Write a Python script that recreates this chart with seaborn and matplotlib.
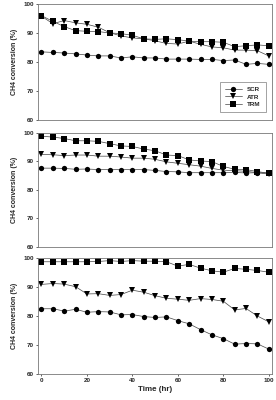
import pandas as pd
import matplotlib
matplotlib.use("Agg")
import matplotlib.pyplot as plt
import seaborn as sns

time = list(range(0, 101, 5))
series = ["SCR", "ATR", "TRM"]

# panel 1
scr1 = [83.5, 83.3, 83.1, 82.8, 82.4, 82.1, 82.1, 81.4, 81.8, 81.4, 81.4,
        81.0, 81.0, 81.0, 80.9, 80.9, 80.5, 80.7, 79.2, 79.5, 79.2]
atr1 = [95.8, 93.2, 94.3, 93.5, 93.0, 92.0, 90.1, 89.0, 88.3, 88.0, 87.3,
        86.4, 86.2, 87.2, 86.1, 85.2, 84.9, 84.1, 84.1, 83.9, 82.1]
trm1 = [96.0, 94.0, 92.2, 90.8, 90.6, 90.5, 90.0, 89.8, 89.2, 88.0, 87.8,
        88.0, 87.7, 87.2, 87.0, 87.0, 86.8, 85.3, 85.6, 85.9, 85.6]

# panel 2
scr2 = [87.6, 87.6, 87.5, 87.2, 87.3, 87.1, 87.1, 87.1, 87.1, 87.1, 86.8,
        86.4, 86.3, 86.0, 86.0, 86.0, 86.0, 86.1, 85.9, 86.0, 85.9]
atr2 = [92.4, 92.3, 92.0, 92.2, 92.2, 91.8, 91.8, 91.5, 91.1, 91.1, 90.7,
        89.8, 89.3, 88.8, 88.3, 87.5, 86.9, 86.7, 86.5, 86.0, 85.5]
trm2 = [98.8, 98.5, 98.0, 97.2, 97.2, 97.0, 96.2, 95.4, 95.2, 94.3, 93.7,
        92.2, 92.0, 90.5, 90.1, 89.9, 88.2, 87.2, 87.1, 86.4, 85.8]

# panel 3
scr3 = [82.5, 82.5, 81.7, 82.3, 81.3, 81.5, 81.4, 80.4, 80.5, 79.8, 79.5,
        79.7, 78.4, 77.3, 75.3, 73.5, 72.2, 70.3, 70.5, 70.4, 68.6]
atr3 = [90.9, 91.2, 91.0, 90.1, 87.6, 87.7, 87.1, 87.4, 88.9, 88.2, 87.0,
        86.1, 85.8, 85.4, 86.0, 85.7, 85.1, 82.1, 82.6, 80.0, 78.0]
trm3 = [98.7, 98.7, 98.7, 98.7, 98.7, 98.8, 99.1, 98.8, 99.1, 98.9, 98.9,
        98.7, 97.2, 97.8, 96.5, 95.6, 95.1, 96.4, 96.1, 95.7, 95.1]

panels = [(scr1, atr1, trm1), (scr2, atr2, trm2), (scr3, atr3, trm3)]
markers = {"SCR": "o", "ATR": "v", "TRM": "s"}
palette = {"SCR": "black", "ATR": "black", "TRM": "black"}

sns.set_style("white")
plt.rcParams["font.family"] = ["Liberation Sans", "DejaVu Sans"]

fig = plt.figure(figsize=(2.76, 4.0), dpi=100)
boxes = [[0.138, 0.70, 0.848, 0.29],
         [0.138, 0.383, 0.848, 0.285],
         [0.138, 0.065, 0.848, 0.29]]

for i, (box, vals) in enumerate(zip(boxes, panels)):
    ax = fig.add_axes(box)
    df = pd.DataFrame({
        "Time": time * 3,
        "CH4": vals[0] + vals[1] + vals[2],
        "Reactor": sum([[s] * len(time) for s in series], []),
    })
    sns.lineplot(data=df, x="Time", y="CH4", hue="Reactor", style="Reactor",
                 markers=markers, dashes=False, palette=palette, ax=ax,
                 markersize=3.8, linewidth=0.5, markeredgewidth=0,
                 legend=(i == 0))
    for ln in ax.lines:
        ln.set_color("#444444")
        ln.set_markerfacecolor("black")
        ln.set_markeredgecolor("black")
    ax.set_xlim(-1.5, 101.5)
    ax.set_ylim(60, 100)
    ax.set_yticks([60, 70, 80, 90, 100])
    ax.tick_params(axis="y", labelsize=4.5, length=1.5, width=0.5,
                   pad=1.5, left=True)
    for lab in ax.get_yticklabels():
        lab.set_fontweight("bold")
    for sp in ax.spines.values():
        sp.set_color("#777777")
        sp.set_linewidth(0.6)
    ax.set_ylabel("CH4 conversion (%)", fontsize=5, fontweight="bold",
                  labelpad=4)
    if i == 2:
        ax.set_xticks([0, 20, 40, 60, 80, 100])
        ax.tick_params(axis="x", labelsize=4.5, length=1.5, width=0.5,
                       pad=1.5, bottom=True)
        for lab in ax.get_xticklabels():
            lab.set_fontweight("bold")
        ax.set_xlabel("Time (hr)", fontsize=5.8, fontweight="bold",
                      labelpad=2)
    else:
        ax.set_xticks([])
        ax.set_xlabel("")
    if i == 0:
        leg = ax.legend(loc="lower right", fontsize=4.5, frameon=True,
                        fancybox=False, edgecolor="#777777",
                        handlelength=2.8, borderpad=0.8, labelspacing=0.35,
                        bbox_to_anchor=(0.985, 0.04))
        leg.get_frame().set_linewidth(0.6)
        for t in leg.get_texts():
            t.set_fontweight("bold")

fig.savefig("out.png", dpi=100)
